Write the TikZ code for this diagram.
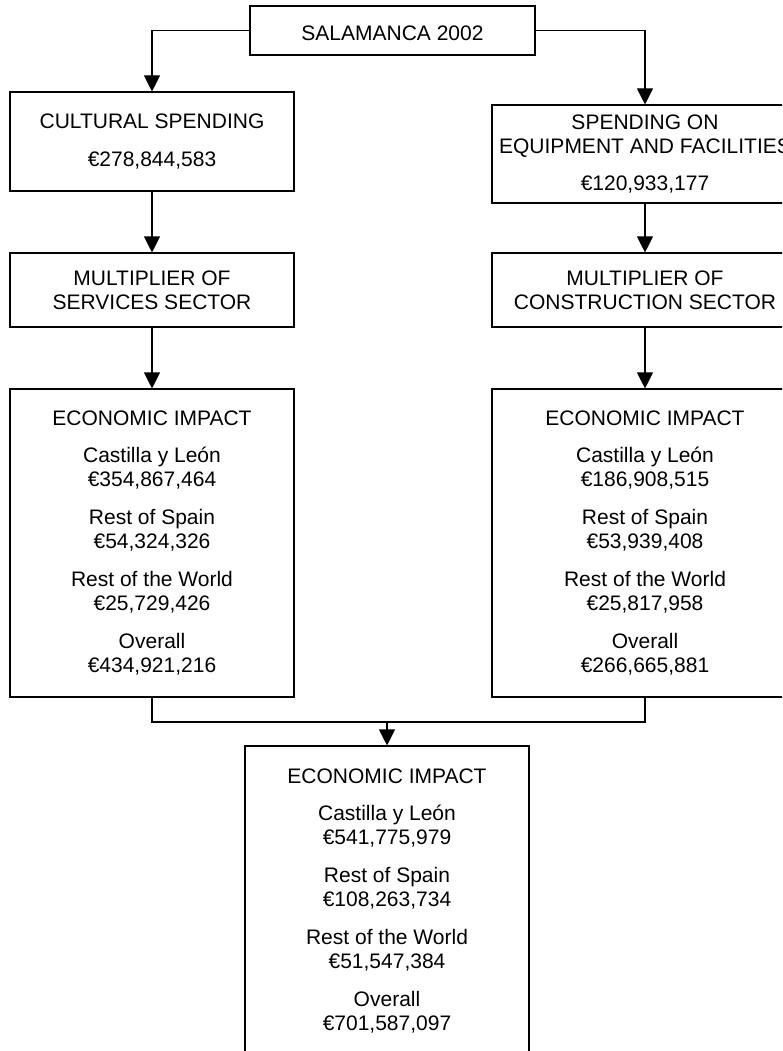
\documentclass[tikz,border=0pt]{standalone}
\usepackage{fontspec}
\setmainfont{Liberation Sans}
\usetikzlibrary{arrows.meta}
\begin{document}
\begin{tikzpicture}[x=1pt,y=-1pt,
  box/.style={draw, line width=1.1pt, align=center, inner sep=0pt, font=\fontsize{21}{24}\selectfont,
    execute at begin node={\rule{0pt}{21pt}}},
  lbox/.style={box, minimum width=284},
  rbox/.style={box, minimum width=306},
  arr/.style={line width=1.1pt, -{Triangle[length=16pt,width=16pt]}},
  conn/.style={line width=1.1pt}]
\useasboundingbox (0,0) rectangle (782,1051);
\clip (0,0) rectangle (782,1051);
\node[box, minimum width=285, minimum height=49] (top) at (392.5,30.5) {SALAMANCA 2002};
\node[lbox, minimum height=99] (cs) at (152,141.5) {CULTURAL SPENDING\\[14pt]€278,844,583};
\node[rbox, minimum height=98] (eq) at (645,154) {SPENDING ON\\EQUIPMENT AND FACILITIES\\[13pt]€120,933,177};
\node[lbox, minimum height=74] (ms) at (152,290) {MULTIPLIER OF\\SERVICES SECTOR};
\node[rbox, minimum height=74] (mc) at (645,290) {MULTIPLIER OF\\CONSTRUCTION SECTOR};
\node[lbox, minimum height=308] (el) at (152,543) {ECONOMIC IMPACT\\[13pt]Castilla y León\\€354,867,464\\[14pt]Rest of Spain\\€54,324,326\\[14pt]Rest of the World\\€25,729,426\\[14pt]Overall\\€434,921,216};
\node[rbox, minimum height=308] (er) at (645,543) {ECONOMIC IMPACT\\[13pt]Castilla y León\\€186,908,515\\[14pt]Rest of Spain\\€53,939,408\\[14pt]Rest of the World\\€25,817,958\\[14pt]Overall\\€266,665,881};
\node[lbox, minimum height=310] (fin) at (387,901) {ECONOMIC IMPACT\\[13pt]Castilla y León\\€541,775,979\\[14pt]Rest of Spain\\€108,263,734\\[14pt]Rest of the World\\€51,547,384\\[14pt]Overall\\€701,587,097};
\coordinate (merge) at (387,722);
\draw[arr] (top.west) -| (cs.north);
\draw[arr] (top.east) -| (eq.north);
\draw[arr] (cs.south) -- (ms.north);
\draw[arr] (eq.south) -- (mc.north);
\draw[arr] (ms.south) -- (el.north);
\draw[arr] (mc.south) -- (er.north);
\draw[conn] (el.south) |- (merge);
\draw[conn] (er.south) |- (merge);
\draw[arr] (merge) -- (fin.north);
\end{tikzpicture}
\end{document}
